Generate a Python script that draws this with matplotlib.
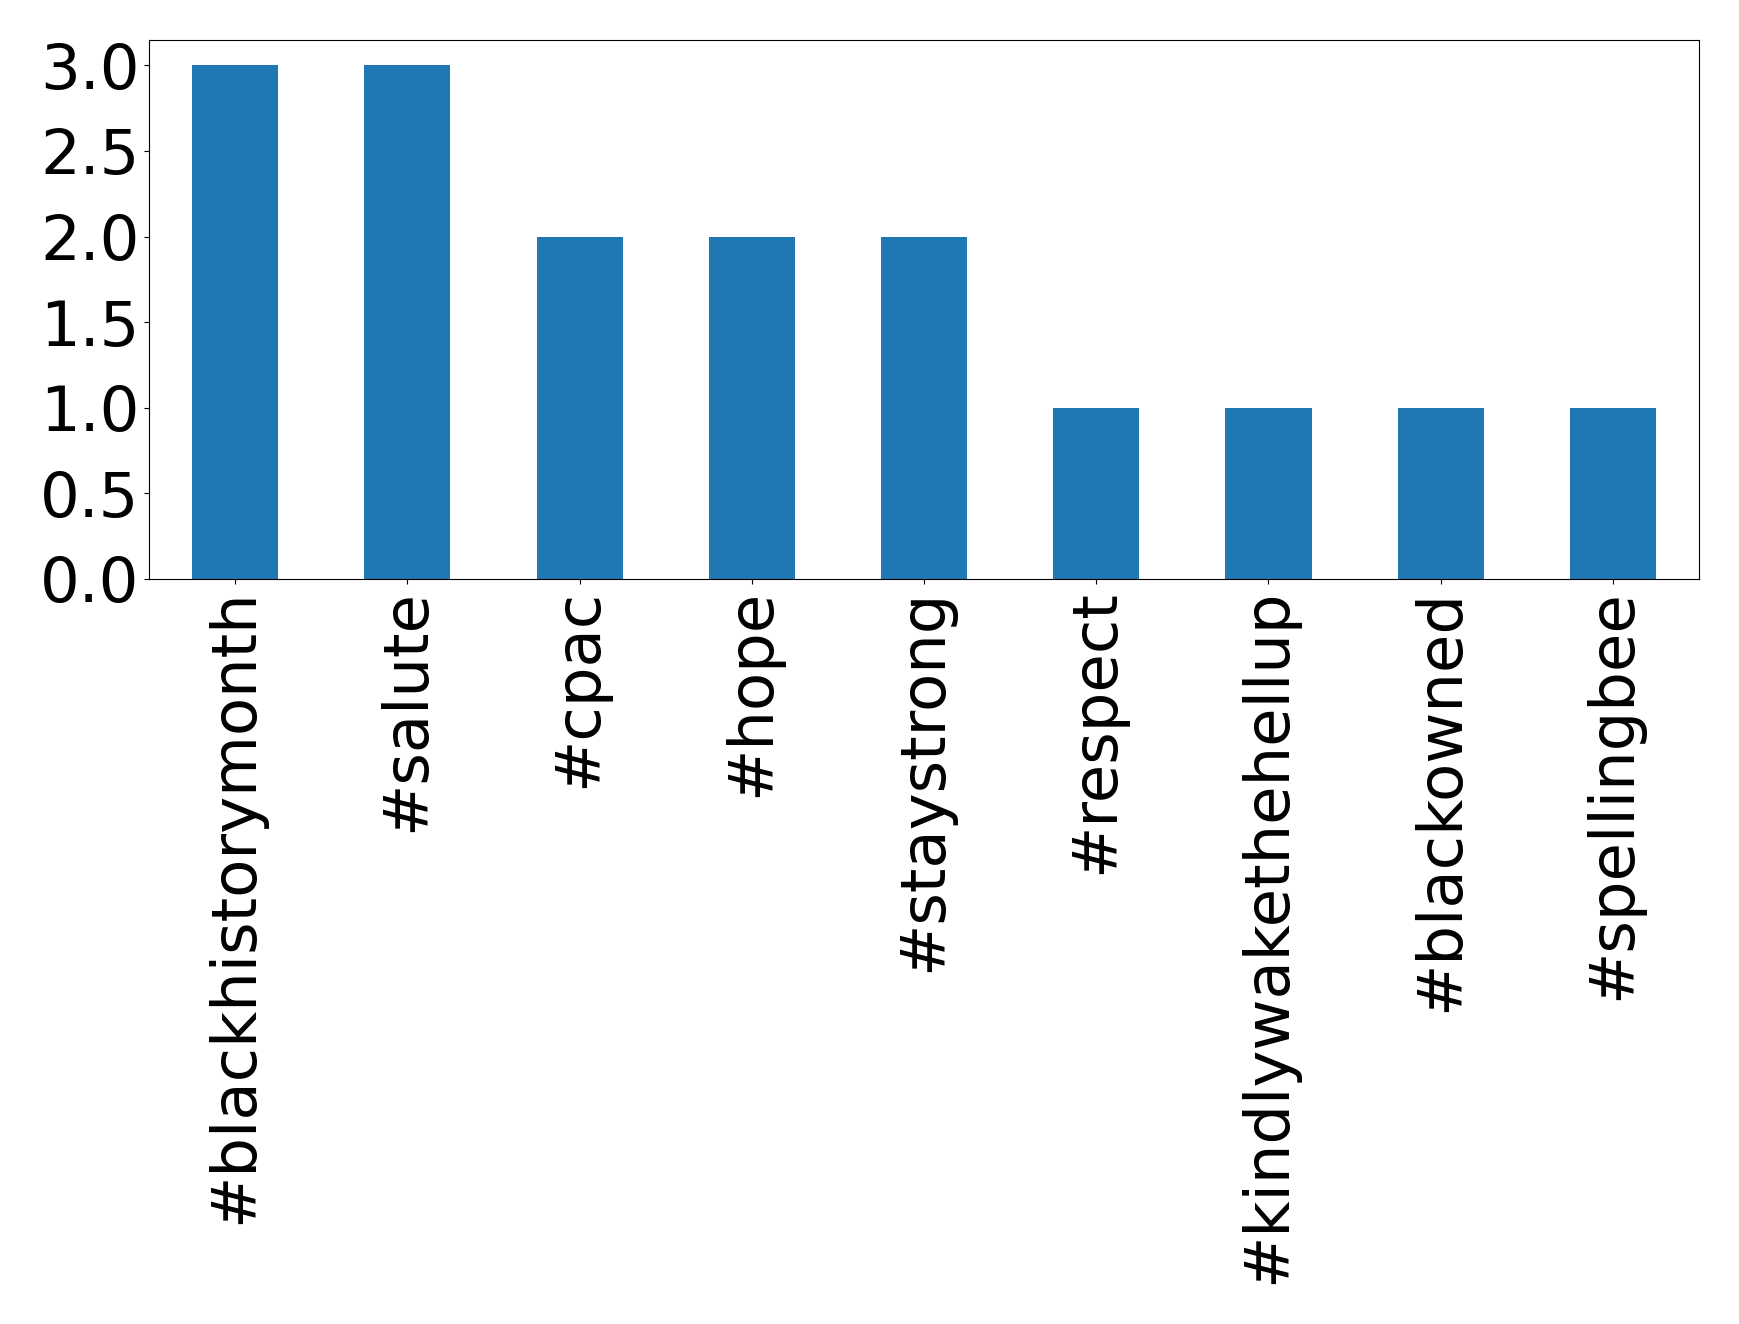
import matplotlib
matplotlib.use("Agg")
import matplotlib.pyplot as plt
import pandas as pd

# hashtag counts
hashtags = ["#blackhistorymonth", "#salute", "#cpac", "#hope", "#staystrong",
            "#respect", "#kindlywakethehellup", "#blackowned", "#spellingbee"]
counts = [3, 3, 2, 2, 2, 1, 1, 1, 1]

s = pd.Series(counts, index=hashtags)

fig = plt.figure(figsize=(17.39, 13.24), dpi=100)
ax = fig.add_subplot(111)
s.plot(kind="bar", ax=ax, fontsize=45)
fig.subplots_adjust(left=0.0857, right=0.977, top=0.970, bottom=0.5627)

fig.savefig("out.png", dpi=100)
